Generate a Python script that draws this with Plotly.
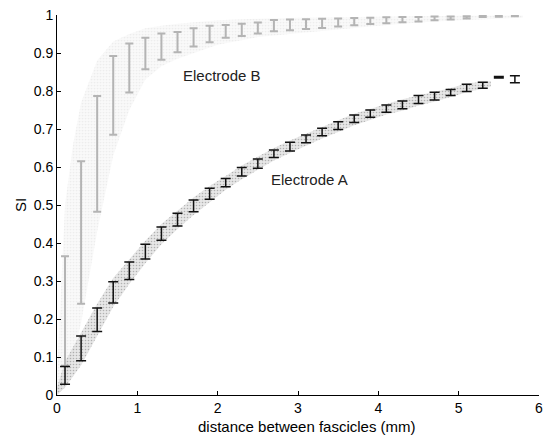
import plotly.graph_objects as go

# ---- data ----
bar_x = [0.1, 0.3, 0.5, 0.7, 0.9, 1.1, 1.3, 1.5, 1.7, 1.9, 2.1, 2.3, 2.5, 2.7, 2.9,
         3.1, 3.3, 3.5, 3.7, 3.9, 4.1, 4.3, 4.5, 4.7, 4.9, 5.1, 5.3, 5.5, 5.7]

a_low = [0.028, 0.090, 0.167, 0.242, 0.304, 0.358, 0.407, 0.445, 0.482, 0.515, 0.548,
         0.576, 0.597, 0.625, 0.642, 0.664, 0.682, 0.699, 0.717, 0.731, 0.744, 0.753,
         0.767, 0.776, 0.788, 0.799, 0.807, 0.834, 0.822]
a_high = [0.075, 0.155, 0.229, 0.298, 0.350, 0.397, 0.442, 0.478, 0.513, 0.544, 0.570,
          0.599, 0.621, 0.645, 0.665, 0.684, 0.702, 0.719, 0.737, 0.750, 0.763, 0.774,
          0.788, 0.797, 0.804, 0.818, 0.823, 0.838, 0.840]

b_low = [0.077, 0.240, 0.482, 0.685, 0.796, 0.857, 0.882, 0.902, 0.917, 0.928, 0.940,
         0.945, 0.951, 0.957, 0.960, 0.963, 0.966, 0.970, 0.973, 0.976, 0.978, 0.981,
         0.983, 0.986, 0.988, 0.991, 0.995, 0.996, 0.997]
b_high = [0.365, 0.615, 0.787, 0.892, 0.925, 0.940, 0.951, 0.955, 0.965, 0.972, 0.974,
          0.977, 0.980, 0.987, 0.988, 0.989, 0.990, 0.991, 0.992, 0.993, 0.994, 0.995,
          0.995, 0.996, 0.996, 0.997, 0.998, 0.998, 0.999]

# scattered sample clouds (envelopes)
cloud_a_x = [0.0, 0.1, 0.3, 0.5, 0.7, 0.9, 1.1, 1.3, 1.5, 1.7, 1.9, 2.1, 2.3, 2.5, 2.7,
             2.9, 3.1, 3.3, 3.5, 3.7, 3.9, 4.1, 4.3, 4.5, 4.7, 4.9, 5.1, 5.3, 5.4]
cloud_a_low = [0.0, 0.02, 0.078, 0.155, 0.232, 0.292, 0.347, 0.397, 0.437, 0.474, 0.507,
               0.540, 0.568, 0.592, 0.617, 0.637, 0.657, 0.675, 0.692, 0.710, 0.724,
               0.738, 0.748, 0.762, 0.772, 0.784, 0.797, 0.806, 0.812]
cloud_a_high = [0.02, 0.088, 0.165, 0.240, 0.308, 0.358, 0.406, 0.450, 0.486, 0.520,
                0.550, 0.576, 0.604, 0.626, 0.650, 0.670, 0.688, 0.706, 0.723, 0.740,
                0.754, 0.766, 0.778, 0.790, 0.798, 0.808, 0.820, 0.824, 0.826]

cloud_b_x = [0.0, 0.1, 0.2, 0.3, 0.5, 0.7, 0.9, 1.1, 1.3, 1.5, 2.0, 2.5, 3.0, 3.5, 4.0,
             4.5, 5.0, 5.5, 5.8]
cloud_b_low = [0.0, 0.02, 0.10, 0.19, 0.43, 0.63, 0.75, 0.83, 0.865, 0.885, 0.922, 0.942,
               0.952, 0.962, 0.972, 0.98, 0.986, 0.99, 0.993]
cloud_b_high = [0.05, 0.50, 0.66, 0.77, 0.88, 0.93, 0.95, 0.965, 0.972, 0.977, 0.986,
                0.99, 0.993, 0.995, 0.996, 0.997, 0.998, 0.999, 0.999]

x_ticks = [0, 1, 2, 3, 4, 5, 6]
y_ticks = [0, 0.1, 0.2, 0.3, 0.4, 0.5, 0.6, 0.7, 0.8, 0.9, 1]
y_tick_labels = ["0", "0.1", "0.2", "0.3", "0.4", "0.5", "0.6", "0.7", "0.8", "0.9", "1"]

labels = ["Electrode B", "Electrode A"]
label_x = [2.05, 3.14]
label_y = [0.842, 0.566]

x_title = "distance between fascicles (mm)"
y_title = "SI"

FONT = "Liberation Sans, Arial, sans-serif"

fig = go.Figure()


def band(xs, lo, hi, fill, dot, sol):
    fig.add_trace(go.Scatter(
        x=xs + xs[::-1], y=lo + hi[::-1], mode="lines", line=dict(width=0),
        fill="toself", fillcolor=fill,
        fillpattern=dict(shape=".", fgcolor=dot, size=3, solidity=sol, fillmode="overlay"),
        hoverinfo="skip", showlegend=False))


band(cloud_b_x, cloud_b_low, cloud_b_high, "rgba(247,247,247,0.7)", "rgba(222,222,222,0.9)", 0.25)
band(cloud_a_x, cloud_a_low, cloud_a_high, "rgba(210,210,210,0.55)", "rgba(95,95,95,0.8)", 0.22)


def bars(lo, hi, color, thick, width):
    mid = [(l + h) / 2 for l, h in zip(lo, hi)]
    half = [max((h - l) / 2, 0.0015) for l, h in zip(lo, hi)]
    fig.add_trace(go.Scatter(
        x=bar_x, y=mid, mode="markers", marker=dict(size=1, color=color, opacity=0),
        error_y=dict(type="data", array=half, arrayminus=half, color=color,
                     thickness=thick, width=width, visible=True),
        showlegend=False, hoverinfo="skip"))


bars(b_low, b_high, "#b4b4b4", 2, 4)
bars(a_low, a_high, "#111111", 1.5, 5)

for t, xx, yy in zip(labels, label_x, label_y):
    fig.add_annotation(x=xx, y=yy, text=t, showarrow=False,
                       font=dict(family=FONT, size=15, color="#222"))

fig.add_annotation(xref="paper", yref="paper", x=0.519, y=-0.084, text=x_title,
                   xanchor="center", yanchor="middle",
                   showarrow=False, font=dict(family=FONT, size=15, color="black"))
fig.add_annotation(xref="paper", yref="paper", x=-0.077, y=0.5, text=y_title,
                   xanchor="center", yanchor="middle",
                   textangle=-90, showarrow=False,
                   font=dict(family=FONT, size=15, color="black"))

# the page has an 8 px body margin; the figure starts 8 px in from the window corner
fig.update_layout(
    width=536, height=429,
    margin=dict(l=49, r=5, t=7, b=42),
    paper_bgcolor="white", plot_bgcolor="white",
    font=dict(family=FONT, size=14, color="black"),
    showlegend=False,
)
fig.update_xaxes(range=[0, 6], tickvals=x_ticks, ticks="inside", ticklen=4,
                 showline=True, linecolor="black", linewidth=1, tickcolor="black",
                 showgrid=False, zeroline=False, automargin=False,
                 ticklabeloverflow="allow")
fig.update_yaxes(range=[0, 1], tickvals=y_ticks, ticktext=y_tick_labels,
                 ticks="inside", ticklen=4,
                 showline=True, linecolor="black", linewidth=1, tickcolor="black",
                 showgrid=False, zeroline=False, automargin=False,
                 ticklabeloverflow="allow")

fig.write_html("out.html")
